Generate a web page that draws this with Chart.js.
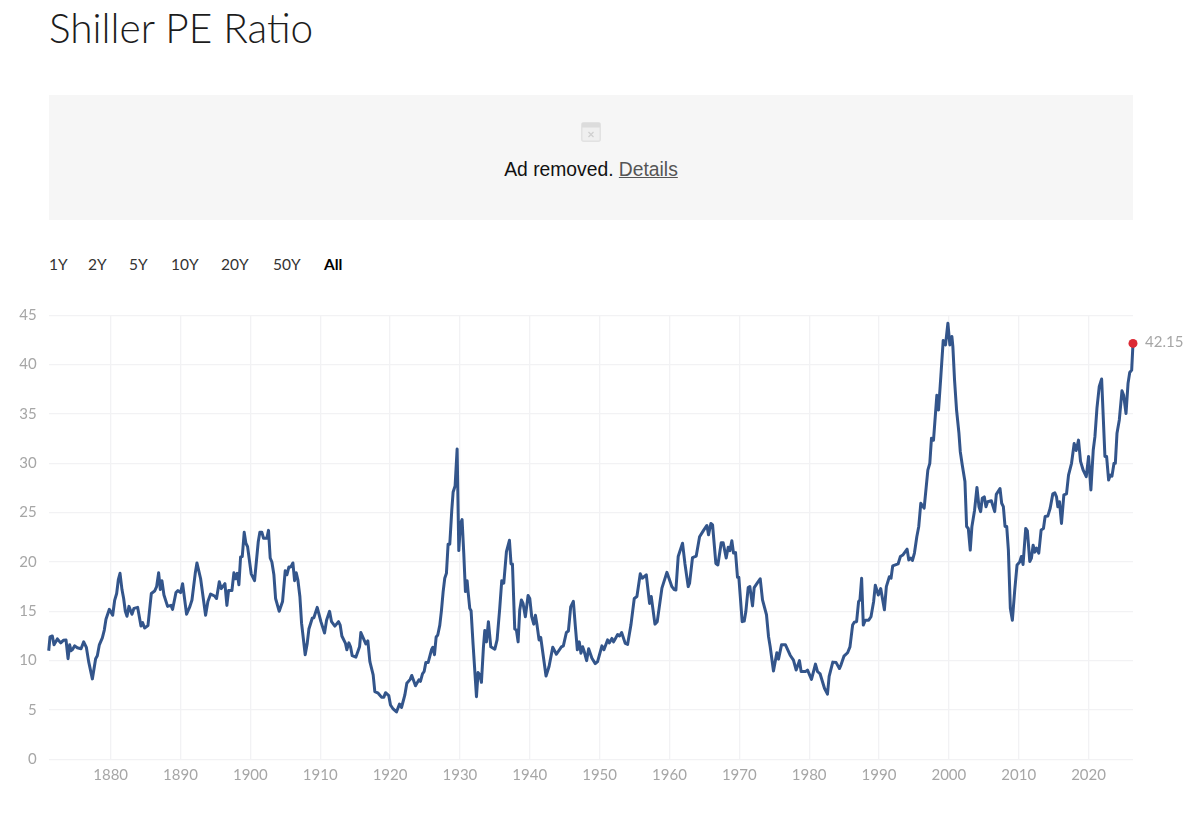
<!DOCTYPE html>
<html>
<head>
<meta charset="utf-8">
<title>Shiller PE Ratio</title>
<script src="https://cdn.jsdelivr.net/npm/chart.js@4/dist/chart.umd.min.js"></script>
<style>
  html, body { margin: 0; padding: 0; background: #fff; overflow: hidden; }
  body { width: 1200px; height: 818px; position: relative; }
  h1 {
    position: absolute; left: 49px; top: 3px; margin: 0;
    font: 300 40.6px/50px Lato, sans-serif; color: #1c1c1c;
  }
  .ad {
    position: absolute; left: 49px; top: 95px; width: 1084px; height: 125px;
    background: #f6f6f6; text-align: center;
    font: 19.3px/22px "Liberation Sans", Arial, sans-serif; color: #111;
  }
  .ad svg { position: absolute; left: 532px; top: 27px; }
  .ad p { position: absolute; left: 0; right: 0; top: 64px; margin: 0; }
  .ad a { color: #555; text-decoration: underline; }
  .range span {
    position: absolute; top: 254px;
    font: 400 15.5px/20px Lato, sans-serif; color: #333;
  }
  .range .on { color: #000; font-weight: 700; }
  canvas { position: absolute; left: 0; top: 300px; }
</style>
</head>
<body>
<h1>Shiller PE Ratio</h1>
<div class="ad">
  <svg width="20" height="20" viewBox="0 0 20 20">
    <rect x="0.75" y="0.75" width="18.5" height="18.5" rx="2" fill="#efefef" stroke="#e2e2e2" stroke-width="1.5"/>
    <rect x="1" y="1" width="18" height="4.5" fill="#dcdcdc"/>
    <path d="M7.5 10l5 5M12.5 10l-5 5" stroke="#cfcfcf" stroke-width="1.2"/>
  </svg>
  <p>Ad removed. <a href="#">Details</a></p>
</div>
<div class="range">
  <span style="left:49px">1Y</span>
  <span style="left:88px">2Y</span>
  <span style="left:129px">5Y</span>
  <span style="left:171px">10Y</span>
  <span style="left:221px">20Y</span>
  <span style="left:273px">50Y</span>
  <span style="left:324px" class="on">All</span>
</div>
<canvas id="peChart" width="1200" height="500"></canvas>
<script>
// fractional years, ten to a line, same layout as cape below
const years = [
  1871.13,1871.32,1871.65,1871.89,1872.37,1872.85,1873.23,1873.61,1873.90,1874.13,
  1874.33,1874.56,1874.85,1875.23,1875.76,1876.14,1876.52,1876.85,1877.38,1877.85,
  1878.09,1878.38,1878.81,1879.09,1879.33,1879.81,1880.29,1880.57,1880.86,1881.10,
  1881.34,1881.62,1881.86,1882.10,1882.34,1882.62,1883.05,1883.34,1883.86,1884.34,
  1884.58,1884.86,1885.34,1885.82,1886.29,1886.58,1886.87,1887.11,1887.34,1887.63,
  1888.15,1888.63,1888.87,1889.35,1889.63,1890.01,1890.30,1890.87,1891.35,1891.64,
  1892.11,1892.35,1892.88,1893.59,1893.92,1894.31,1894.88,1895.16,1895.55,1895.83,
  1896.36,1896.64,1896.88,1897.36,1897.64,1897.88,1898.12,1898.36,1898.60,1898.84,
  1899.12,1899.36,1899.60,1900.12,1900.60,1901.13,1901.36,1901.65,1901.89,1902.36,
  1902.60,1902.84,1903.08,1903.37,1903.61,1904.13,1904.61,1904.99,1905.23,1905.52,
  1905.80,1906.09,1906.33,1906.57,1906.80,1907.09,1907.33,1907.85,1908.14,1908.38,
  1908.86,1909.09,1909.57,1910.10,1910.62,1910.91,1911.34,1911.62,1912.10,1912.62,
  1912.86,1913.10,1913.62,1913.81,1914.10,1914.34,1914.58,1915.10,1915.63,1915.82,
  1916.34,1916.53,1916.82,1917.11,1917.58,1917.82,1918.30,1918.77,1919.11,1919.35,
  1919.82,1920.06,1920.44,1920.92,1921.35,1921.64,1922.11,1922.40,1922.88,1923.11,
  1923.64,1924.12,1924.35,1924.64,1924.88,1925.12,1925.45,1925.93,1926.12,1926.36,
  1926.60,1926.83,1927.12,1927.36,1927.60,1927.83,1928.07,1928.31,1928.55,1928.84,
  1929.03,1929.31,1929.60,1929.84,1930.08,1930.31,1930.55,1930.79,1931.03,1931.17,
  1931.41,1931.60,1931.89,1932.37,1932.60,1932.84,1933.08,1933.37,1933.56,1933.80,
  1934.08,1934.42,1934.99,1935.32,1935.70,1935.99,1936.28,1936.66,1937.09,1937.32,
  1937.52,1937.85,1938.09,1938.33,1938.56,1938.80,1939.04,1939.37,1939.76,1940.00,
  1940.28,1940.57,1940.81,1941.04,1941.33,1941.57,1942.33,1942.76,1943.29,1943.81,
  1944.53,1944.81,1945.24,1945.53,1945.86,1946.24,1946.53,1946.81,1947.09,1947.33,
  1947.57,1947.81,1948.14,1948.43,1948.90,1949.38,1949.71,1950.33,1950.62,1951.14,
  1951.38,1951.76,1952.00,1952.58,1952.86,1953.15,1953.67,1954.01,1954.48,1954.96,
  1955.34,1955.82,1956.10,1956.68,1957.15,1957.39,1957.92,1958.25,1958.92,1959.63,
  1960.35,1960.68,1960.92,1961.25,1961.87,1962.21,1962.68,1962.88,1963.30,1963.83,
  1964.31,1964.88,1965.36,1965.59,1965.93,1966.17,1966.64,1966.93,1967.41,1967.69,
  1968.12,1968.41,1968.65,1968.93,1969.17,1969.46,1969.74,1969.93,1970.41,1970.70,
  1970.93,1971.27,1971.51,1971.89,1972.13,1972.56,1972.99,1973.32,1973.89,1974.18,
  1974.42,1974.89,1975.37,1975.61,1976.04,1976.61,1977.28,1977.75,1978.14,1978.61,
  1978.85,1979.52,1979.76,1980.00,1980.33,1980.90,1981.19,1981.57,1982.19,1982.62,
  1982.86,1983.38,1983.86,1984.33,1984.55,1984.98,1985.50,1985.84,1986.22,1986.46,
  1986.79,1987.08,1987.27,1987.51,1987.75,1988.04,1988.52,1988.85,1989.23,1989.47,
  1989.90,1990.24,1990.77,1991.05,1991.48,1991.72,1991.96,1992.73,1993.06,1993.40,
  1994.02,1994.26,1994.55,1994.78,1995.07,1995.41,1995.69,1995.98,1996.46,1996.99,
  1997.27,1997.51,1997.80,1998.28,1998.52,1998.85,1999.19,1999.52,1999.86,2000.14,
  2000.43,2000.57,2000.81,2001.10,2001.44,2001.63,2001.91,2002.30,2002.54,2002.78,
  2003.06,2003.30,2003.68,2004.02,2004.31,2004.55,2004.78,2005.07,2005.31,2005.55,
  2006.08,2006.56,2006.79,2007.32,2007.56,2007.80,2008.04,2008.28,2008.52,2008.80,
  2009.09,2009.43,2009.76,2010.14,2010.38,2010.62,2011.00,2011.24,2011.58,2011.82,
  2012.06,2012.30,2012.54,2012.87,2013.21,2013.54,2013.78,2014.16,2014.50,2014.88,
  2015.17,2015.41,2015.60,2015.84,2016.12,2016.46,2016.84,2017.13,2017.56,2017.94,
  2018.23,2018.56,2018.85,2019.23,2019.67,2020.00,2020.33,2020.67,2020.91,2021.20,
  2021.53,2021.87,2022.34,2022.58,2022.87,2023.11,2023.35,2023.64,2023.83,2024.07,
  2024.40,2024.78,2025.02,2025.36,2025.65,2025.89,2026.17,2026.36,
];
const cape = [
  11.0,12.4,12.5,11.6,12.2,11.8,12.06,12.1,10.2,11.6,
  11.0,11.15,11.5,11.3,11.2,11.9,11.35,9.9,8.15,10.2,
  10.5,11.6,12.3,13.1,14.2,15.2,14.6,16.1,16.8,18.2,
  18.85,17.2,16.3,15.0,14.5,15.5,14.7,15.3,15.4,13.5,
  13.85,13.3,13.55,16.8,17.05,17.5,18.9,17.2,18.1,16.65,
  15.5,15.6,15.2,16.9,17.1,16.9,17.8,14.7,15.5,16.15,
  18.85,19.9,18.3,14.6,16.0,16.75,16.55,16.3,18.0,17.3,
  17.8,15.6,17.1,17.1,18.9,18.3,18.85,17.7,20.5,20.55,
  23.0,21.9,21.55,18.8,18.1,22.05,23.0,23.0,22.4,22.4,
  23.2,20.4,20.0,18.7,16.3,15.0,16.0,19.1,18.7,19.5,
  19.5,19.9,18.1,18.9,18.2,16.5,13.8,10.6,11.75,13.2,
  14.3,14.35,15.4,13.95,12.8,14.1,15.0,13.95,13.5,13.95,
  13.6,12.5,11.75,11.1,11.8,11.4,10.5,10.35,11.4,12.85,
  12.0,11.7,12.0,9.9,8.55,6.85,6.7,6.3,6.3,6.75,
  6.45,5.5,5.1,4.8,5.6,5.25,6.5,7.7,8.1,8.5,
  7.45,8.05,7.9,8.65,8.9,9.8,9.8,11.1,11.35,10.6,
  12.4,12.6,13.6,15.1,17.0,18.35,18.85,21.8,21.8,25.3,
  27.1,27.7,31.45,21.15,23.9,24.3,20.9,17.0,18.1,17.0,
  15.3,15.05,11.6,6.35,8.8,8.55,7.8,11.4,13.05,11.9,
  13.95,11.4,11.15,12.1,15.3,18.1,17.85,21.05,22.2,19.8,
  19.8,13.2,13.1,11.9,15.1,16.15,15.8,14.45,16.6,16.3,
  14.45,13.7,14.6,13.6,12.1,12.35,8.45,9.4,11.35,10.65,
  11.4,11.5,12.85,13.0,15.45,16.0,13.45,11.1,11.9,10.75,
  11.4,10.9,10.0,11.2,10.25,9.7,9.9,11.5,11.1,12.1,
  11.8,12.25,11.9,12.65,12.5,12.85,11.75,11.65,13.6,16.3,
  16.5,18.8,18.35,18.7,15.8,16.5,13.7,13.95,17.35,18.95,
  17.5,17.2,17.15,20.55,21.9,19.85,17.5,17.85,20.45,20.6,
  22.55,23.2,23.7,22.75,23.9,23.75,19.85,19.7,21.95,21.95,
  20.4,21.5,21.15,22.15,20.9,20.95,18.45,18.45,13.95,14.0,
  14.95,17.4,17.5,15.55,17.4,17.85,18.3,16.15,14.65,12.45,
  11.4,8.95,10.8,10.15,11.6,11.6,10.55,10.05,9.05,10.0,
  8.9,8.9,9.05,8.65,8.1,9.65,8.9,8.65,7.2,6.6,
  8.4,9.85,9.8,9.2,9.55,10.45,10.8,11.4,13.6,13.9,
  13.95,16.0,16.15,18.35,13.6,14.1,14.1,14.45,16.0,17.65,
  16.65,17.3,15.15,17.5,18.5,18.35,19.6,19.8,20.55,20.7,
  21.3,20.2,20.4,20.15,20.9,22.55,23.6,25.95,25.45,29.3,
  30.0,32.55,32.35,36.9,35.4,38.8,42.45,42.0,44.2,42.0,
  42.85,41.85,38.45,35.4,33.05,31.2,29.85,28.15,23.6,23.4,
  21.2,23.6,25.25,27.55,25.6,25.1,26.45,26.6,25.6,26.1,
  26.2,25.1,26.85,27.45,25.95,25.6,23.6,23.6,21.2,15.3,
  14.1,17.15,19.7,20.0,20.55,19.75,23.4,23.15,20.05,20.4,
  21.7,21.0,21.4,20.9,23.25,23.4,24.6,24.65,25.45,26.9,
  27.0,26.6,25.6,26.1,23.9,26.8,26.9,28.8,30.0,32.0,
  31.3,32.35,30.2,29.3,28.65,30.7,27.3,31.35,32.7,35.6,
  37.8,38.55,30.7,30.7,28.3,28.8,28.7,30.0,30.0,33.05,
  34.4,37.35,36.9,35.05,38.1,39.2,39.45,42.15,
];
const decadeTicks = [1880,1890,1900,1910,1920,1930,1940,1950,1960,1970,1980,1990,2000,2010,2020];
const valueTicks = [0,5,10,15,20,25,30,35,40,45];

const lastYear = years[years.length - 1];
const lastValue = cape[cape.length - 1];
const axisFont = { family: "Lato", size: 15, weight: "400" };
const axisColor = "#a6a6a6";

// writes the latest reading next to the red dot
const lastValueLabel = {
  id: "lastValueLabel",
  afterDatasetsDraw(chart) {
    const { ctx, scales } = chart;
    ctx.save();
    ctx.font = '400 15px Lato';
    ctx.fillStyle = axisColor;
    ctx.textBaseline = "middle";
    ctx.fillText(lastValue.toFixed(2), scales.x.getPixelForValue(lastYear) + 12, scales.y.getPixelForValue(lastValue) - 1.5);
    ctx.restore();
  },
};

let ctx = document.getElementById("peChart").getContext("2d");
let peChart = new Chart(ctx, {
  type: "line",
  data: {
    datasets: [
      {
        data: [{ x: lastYear, y: lastValue }],
        pointRadius: 4.5,
        pointBackgroundColor: "#dc2a35",
        pointBorderWidth: 0,
        showLine: false,
        clip: false,
      },
      {
        data: years.map((y, i) => ({ x: y, y: cape[i] })),
        borderColor: "#33558b",
        borderWidth: 3,
        borderJoinStyle: "round",
        pointRadius: 0,
        tension: 0,
        clip: false,
      },
    ],
  },
  options: {
    responsive: false,
    animation: false,
    layout: { padding: { top: 15.3, right: 67, left: 0, bottom: 0 } },
    plugins: { legend: { display: false }, tooltip: { enabled: false } },
    scales: {
      x: {
        type: "linear",
        min: years[0],
        max: lastYear,
        afterFit: (s) => { s.height = 40.7; },
        afterBuildTicks: (s) => { s.ticks = decadeTicks.map((v) => ({ value: v })); },
        grid: { color: "#f2f2f4", lineWidth: 1.3, drawTicks: false },
        border: { display: false },
        ticks: {
          maxRotation: 0,
          autoSkip: false,
          padding: 7,
          color: axisColor,
          font: axisFont,
          callback: (v) => String(v),
        },
      },
      y: {
        min: 0,
        max: 45,
        // keep the plot edges fixed regardless of label height
        afterFit: (s) => { s.width = 48.7; s.paddingTop = 0; s.paddingBottom = 0; },
        afterBuildTicks: (s) => { s.ticks = valueTicks.map((v) => ({ value: v })); },
        grid: { color: "#f2f2f4", lineWidth: 1.3, drawTicks: false },
        border: { display: false },
        ticks: { padding: 12, color: axisColor, font: axisFont },
      },
    },
  },
  plugins: [lastValueLabel],
});
</script>
</body>
</html>
